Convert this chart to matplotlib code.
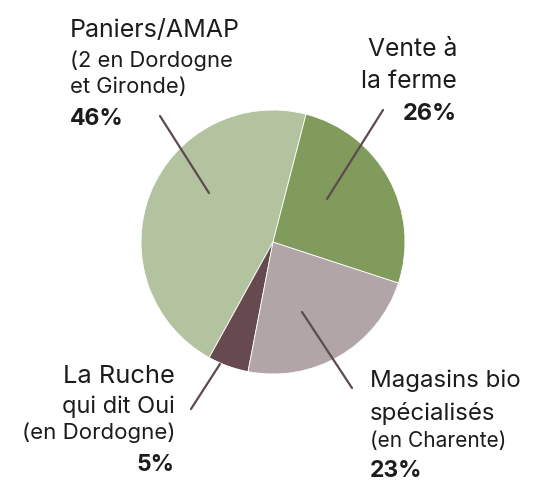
import matplotlib.pyplot as plt

W, H = 534, 482

labels = ["Paniers/AMAP", "La Ruche qui dit Oui", "Magasins bio spécialisés", "Vente à la ferme"]
shares = [46, 5, 23, 26]
colors = ["#b3c29f", "#664a4f", "#b2a5a7", "#819b5c"]

plt.rcParams['font.family'] = ['Inter', 'DejaVu Sans']
fig = plt.figure(figsize=(W / 100, H / 100), dpi=100)

# pie centre ~ (273, 242) px, radius ~ 132 px
cx, cy, r = 273, 242, 132
ax = fig.add_axes([(cx - r) / W, 1 - (cy + r) / H, 2 * r / W, 2 * r / H])
ax.pie(shares, colors=colors, startangle=75.5, counterclock=True,
       wedgeprops=dict(edgecolor="white", linewidth=0.6))
ax.set_xlim(-1, 1)
ax.set_ylim(-1, 1)
ax.set_aspect("equal")
ax.axis("off")


def d(px, py):
    # pixel position -> data coords of the pie axes
    return ((px - cx) / r, (cy - py) / r)


line_col = "#5e4a50"
leaders = [
    ((209, 193), (160, 116)),
    ((220, 364), (191, 409)),
    ((302, 312), (352, 388)),
    ((327, 199), (383, 110)),
]
for (a, b) in leaders:
    ax.annotate("", xy=d(*a), xytext=d(*b), annotation_clip=False,
                arrowprops=dict(arrowstyle="-", color=line_col, lw=1.6,
                                shrinkA=0, shrinkB=0))

txt = "#1c1c1c"


def t(x, y, s, size, ha="left", bold=False):
    fig.text(x / W, 1 - y / H, s, fontsize=size, ha=ha, va="baseline",
             color=txt, fontweight="bold" if bold else "normal")


# Paniers/AMAP
t(70, 37, "Paniers/AMAP", 18)
t(70, 67, "(2 en Dordogne", 15.8)
t(70, 93, "et Gironde)", 15.8)
t(70, 125, f"{shares[0]}%", 16.5, bold=True)

# Vente à la ferme
t(457, 56, "Vente à", 17.8, ha="right")
t(457, 88, "la ferme", 17.8, ha="right")
t(457, 120, f"{shares[3]}%", 17, ha="right", bold=True)

# La Ruche
t(175, 383, "La Ruche", 18.3, ha="right")
t(175, 413, "qui dit Oui", 17, ha="right")
t(175, 439, "(en Dordogne)", 16, ha="right")
t(175, 471, f"{shares[1]}%", 16.5, ha="right", bold=True)

# Magasins bio
t(370, 387, "Magasins bio", 17.3)
t(370, 420, "spécialisés", 17.3)
t(370, 447, "(en Charente)", 15)
t(370, 477, f"{shares[2]}%", 16.5, bold=True)

fig.savefig("out.png", dpi=100)
